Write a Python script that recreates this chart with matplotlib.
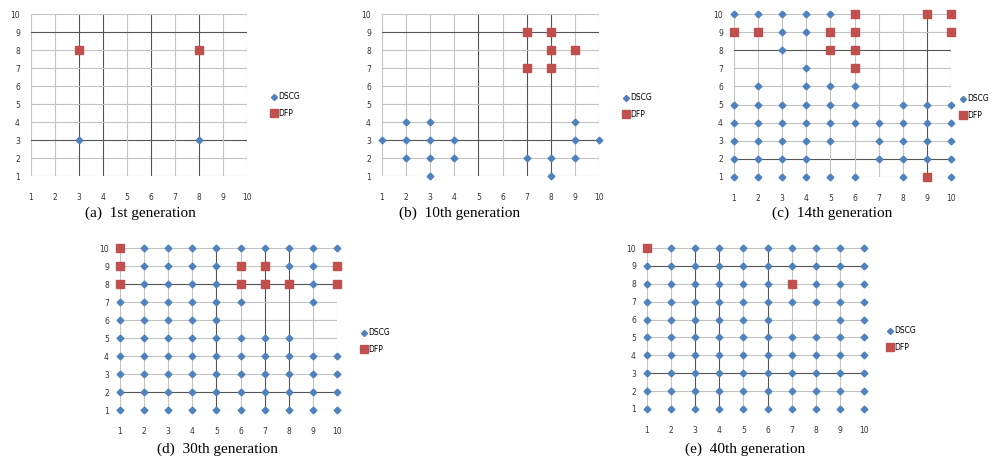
import matplotlib.pyplot as plt

# x positions of nodes in each row (y = 10 down to 1)
ROWS = [10, 9, 8, 7, 6, 5, 4, 3, 2, 1]

dscg_gen1 = [[], [], [], [], [], [], [], [3, 8], [], []]
dfp_gen1 = [[], [], [3, 8], [], [], [], [], [], [], []]

dscg_gen10 = [[], [], [], [], [], [], [2, 3, 9], [1, 2, 3, 4, 9, 10],
              [2, 3, 4, 7, 8, 9], [3, 8]]
dfp_gen10 = [[], [7, 8], [8, 9], [7, 8], [], [], [], [], [], []]

dscg_gen14 = [[1, 2, 3, 4, 5], [3, 4], [3], [4], [2, 4, 5, 6],
              [1, 2, 3, 4, 5, 6, 8, 9, 10],
              [1, 2, 3, 4, 5, 6, 7, 8, 9, 10],
              [1, 2, 3, 4, 5, 7, 8, 9, 10],
              [1, 2, 3, 4, 7, 8, 9, 10],
              [1, 2, 3, 4, 5, 6, 8, 10]]
dfp_gen14 = [[6, 9, 10], [1, 2, 5, 6, 10], [5, 6], [6], [], [], [], [], [], [9]]

dscg_gen30 = [[2, 3, 4, 5, 6, 7, 8, 9, 10], [2, 3, 4, 5, 8, 9], [2, 3, 4, 5, 9],
              [1, 2, 3, 4, 5, 6, 9], [1, 2, 3, 4, 5],
              [1, 2, 3, 4, 5, 6, 7, 8],
              [1, 2, 3, 4, 5, 6, 7, 8, 9, 10],
              [1, 2, 3, 4, 5, 6, 7, 8, 9, 10],
              [1, 2, 3, 4, 5, 6, 7, 8, 9, 10],
              [1, 2, 3, 4, 5, 6, 7, 8, 9, 10]]
dfp_gen30 = [[1], [1, 6, 7, 10], [1, 6, 7, 8, 10], [], [], [], [], [], [], []]

dscg_gen40 = [[2, 3, 4, 5, 6, 7, 8, 9, 10],
              [1, 2, 3, 4, 5, 6, 7, 8, 9, 10],
              [1, 2, 3, 4, 5, 6, 8, 9, 10],
              [1, 2, 3, 4, 5, 6, 7, 8, 9, 10],
              [1, 2, 3, 4, 5, 6, 9, 10],
              [1, 2, 3, 4, 5, 6, 7, 8, 9, 10],
              [1, 2, 3, 4, 5, 6, 7, 8, 9, 10],
              [1, 2, 3, 4, 5, 6, 7, 8, 9, 10],
              [1, 2, 3, 4, 5, 6, 7, 8, 9, 10],
              [1, 2, 3, 4, 5, 6, 7, 8, 9, 10]]
dfp_gen40 = [[1], [], [7], [], [], [], [], [], [], []]

captions = ["(a)  1st generation", "(b)  10th generation", "(c)  14th generation",
            "(d)  30th generation", "(e)  40th generation"]

# darker grid lines seen in each panel
dark_x = [[3, 4, 6, 8], [5, 7, 8], [9], [5, 7, 8], [3, 4, 6]]
dark_y = [[9, 3], [9, 3], [8, 2], [8, 2], [9, 3]]

# pixel boxes: left, right, top, bottom
boxes = [(31, 247, 14, 176), (382, 599, 14, 176), (734, 951, 14, 177),
         (120, 337, 248, 410), (647, 864, 248, 409)]
legend_pos = [(268, 105), (620, 106), (957, 107), (358, 341), (884, 339)]
caption_pos = [(140, 213), (460, 213), (832, 213), (218, 449), (745, 449)]

W, H = 1004, 463
BLUE = "#4F81BD"
RED = "#C0504D"


def to_points(rows):
    xs, ys = [], []
    for yv, row in zip(ROWS, rows):
        for xv in row:
            xs.append(xv)
            ys.append(yv)
    return xs, ys


fig = plt.figure(figsize=(W / 100, H / 100), dpi=100)

panels = [(dscg_gen1, dfp_gen1), (dscg_gen10, dfp_gen10), (dscg_gen14, dfp_gen14),
          (dscg_gen30, dfp_gen30), (dscg_gen40, dfp_gen40)]

for i, (dscg, dfp) in enumerate(panels):
    l, r, t, b = boxes[i]
    ax = fig.add_axes([l / W, 1 - b / H, (r - l) / W, (b - t) / H])
    ax.set_xlim(1, 10)
    ax.set_ylim(1, 10)
    ax.set_xticks(range(1, 11))
    ax.set_yticks(range(1, 11))
    for s in ax.spines.values():
        s.set_visible(False)
    ax.tick_params(length=0, labelsize=5.5, colors="#333333")
    ax.tick_params(axis="x", pad=12)
    ax.tick_params(axis="y", pad=8)

    for v in range(1, 11):
        cx = "#555555" if v in dark_x[i] else "#c4c4c4"
        cy = "#555555" if v in dark_y[i] else "#c4c4c4"
        ax.axvline(v, color=cx, lw=0.8, zorder=1)
        ax.axhline(v, color=cy, lw=0.8, zorder=1)

    xs, ys = to_points(dscg)
    ax.plot(xs, ys, "D", color=BLUE, ms=3.4, mec=BLUE, ls="none",
            clip_on=False, zorder=3, label="DSCG")
    xs, ys = to_points(dfp)
    ax.plot(xs, ys, "s", color=RED, ms=6, mec=RED, ls="none",
            clip_on=False, zorder=4, label="DFP")

    lx, ly = legend_pos[i]
    ax.legend(loc="center left", bbox_to_anchor=(lx / W, 1 - ly / H),
              bbox_transform=fig.transFigure, frameon=False, fontsize=5.5,
              handlelength=0.6, handletextpad=0.2, labelspacing=1.0,
              borderpad=0, markerscale=0.9)

    cx, cy = caption_pos[i]
    fig.text(cx / W, 1 - cy / H, captions[i], ha="center", va="center",
             family="Liberation Serif", fontsize=11)

fig.savefig("out.png", dpi=100)
